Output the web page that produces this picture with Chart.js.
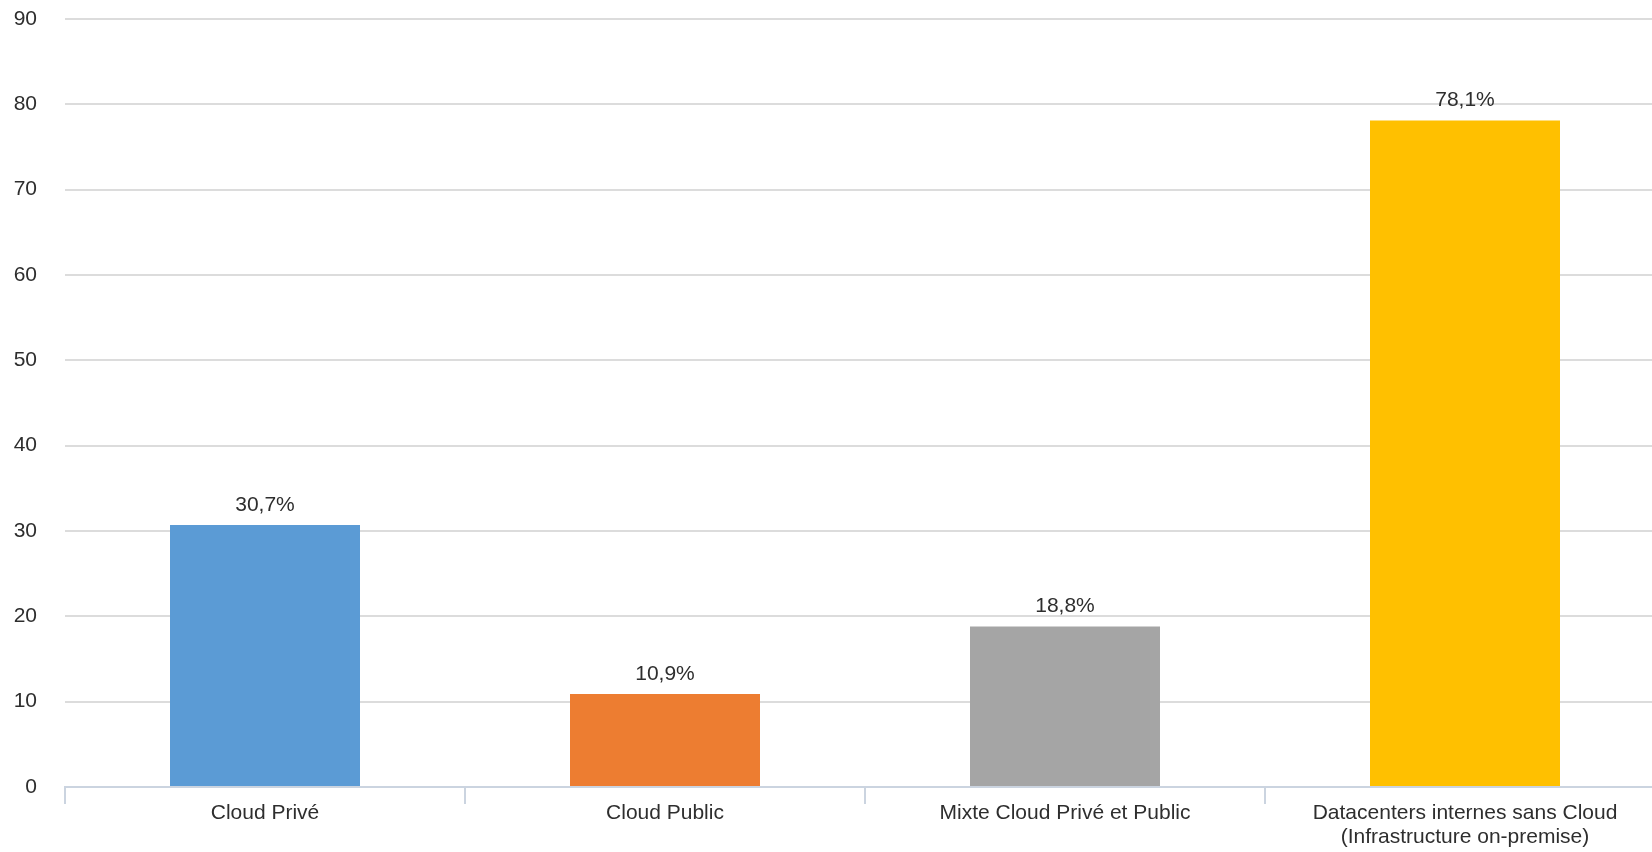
<!DOCTYPE html>
<html>
<head>
<meta charset="utf-8">
<title>Infrastructure</title>
<script src="https://cdn.jsdelivr.net/npm/chart.js@4/dist/chart.umd.min.js"></script>
<style>
    html, body {
        margin: 0;
        padding: 0;
        background: #ffffff;
        overflow: hidden;
    }
    #wrap {
        width: 1665px;
        height: 852px;
    }
</style>
</head>
<body>
<div id="wrap">
    <canvas id="infraChart" width="1665" height="852"></canvas>
</div>
<script>
// Chart data
const categories = [
    'Cloud Privé',
    'Cloud Public',
    'Mixte Cloud Privé et Public',
    ['Datacenters internes sans Cloud', '(Infrastructure on-premise)']
];
const values = [30.7, 10.9, 18.8, 78.1];
const barColors = ['#5b9bd5', '#ed7d31', '#a5a5a5', '#ffc000'];
const yTicks = [0, 10, 20, 30, 40, 50, 60, 70, 80, 90];

const textColor = '#2e2e2e';
const fontFamily = '"Liberation Sans", Arial, sans-serif';

// Format value as "30,7%"
function formatPercent(v) {
    return v.toFixed(1).replace('.', ',') + '%';
}

// Draw the value above each bar
const valueLabels = {
    id: 'valueLabels',
    afterDatasetsDraw(chart) {
        const ctx = chart.ctx;
        const meta = chart.getDatasetMeta(0);
        ctx.save();
        ctx.font = '21px ' + fontFamily;
        ctx.fillStyle = textColor;
        ctx.textAlign = 'center';
        ctx.textBaseline = 'middle';
        meta.data.forEach((bar, i) => {
            ctx.fillText(formatPercent(values[i]), bar.x, bar.y - 20);
        });
        ctx.restore();
    }
};

const ctx = document.getElementById('infraChart');

new Chart(ctx, {
    type: 'bar',
    data: {
        labels: categories,
        datasets: [{
            data: values,
            backgroundColor: barColors,
            borderWidth: 0,
            categoryPercentage: 1,
            barPercentage: 0.475
        }]
    },
    options: {
        responsive: false,
        animation: false,
        layout: {
            padding: { top: 19, right: 0, bottom: 0, left: 0 }
        },
        plugins: {
            legend: { display: false },
            tooltip: { enabled: false }
        },
        scales: {
            x: {
                offset: true,
                afterFit: (axis) => {
                    axis.height = 65;
                    axis.paddingLeft = 0;
                    axis.paddingRight = 0;
                },
                border: {
                    display: true,
                    color: '#cbd4e0',
                    width: 2
                },
                grid: {
                    offset: true,
                    drawOnChartArea: false,
                    drawTicks: true,
                    tickLength: 17,
                    color: '#cbd4e0',
                    lineWidth: 2
                },
                ticks: {
                    color: textColor,
                    padding: -3,
                    maxRotation: 0,
                    autoSkip: false,
                    font: { family: fontFamily, size: 21, lineHeight: 24 / 21 }
                }
            },
            y: {
                min: 0,
                max: 90,
                afterFit: (axis) => {
                    // keep the label gap from pushing the plot down
                    axis.width = 65;
                    axis.paddingTop = 0;
                    axis.paddingBottom = 0;
                },
                afterBuildTicks: (axis) => {
                    axis.ticks = yTicks.map(v => ({ value: v }));
                },
                border: { display: false },
                grid: {
                    drawTicks: false,
                    color: '#dcdcdc',
                    lineWidth: 2
                },
                ticks: {
                    color: textColor,
                    padding: 28,
                    font: { family: fontFamily, size: 21 }
                }
            }
        }
    },
    plugins: [valueLabels]
});
</script>
</body>
</html>
